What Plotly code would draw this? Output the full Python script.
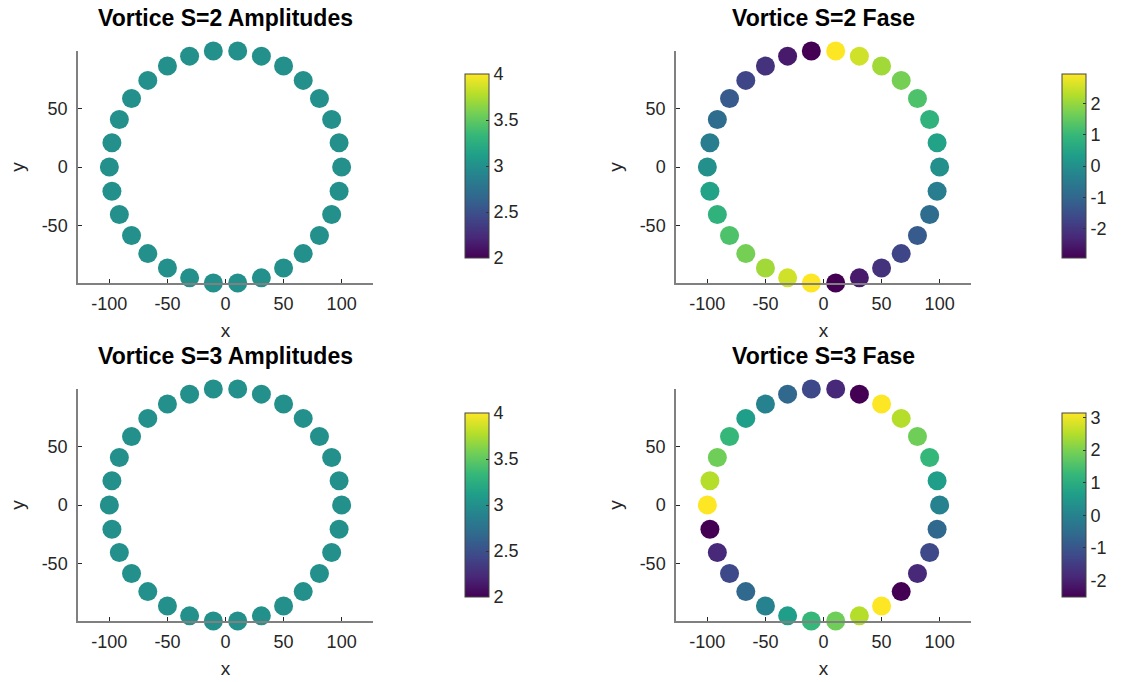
import plotly.graph_objects as go

# ---- data (30 points on a circle of radius 100) ----
x_vals = [100.0, 97.8, 91.4, 80.9, 66.9, 50.0, 30.9, 10.5, -10.5, -30.9,
          -50.0, -66.9, -80.9, -91.4, -97.8, -100.0, -97.8, -91.4, -80.9, -66.9,
          -50.0, -30.9, -10.5, 10.5, 30.9, 50.0, 66.9, 80.9, 91.4, 97.8]
y_vals = [0.0, 20.8, 40.7, 58.8, 74.3, 86.6, 95.1, 99.5, 99.5, 95.1,
          86.6, 74.3, 58.8, 40.7, 20.8, 0.0, -20.8, -40.7, -58.8, -74.3,
          -86.6, -95.1, -99.5, -99.5, -95.1, -86.6, -74.3, -58.8, -40.7, -20.8]

amp_s2 = [3.0, 3.0, 3.0, 3.0, 3.0, 3.0, 3.0, 3.0, 3.0, 3.0,
          3.0, 3.0, 3.0, 3.0, 3.0, 3.0, 3.0, 3.0, 3.0, 3.0,
          3.0, 3.0, 3.0, 3.0, 3.0, 3.0, 3.0, 3.0, 3.0, 3.0]
amp_s3 = [3.0, 3.0, 3.0, 3.0, 3.0, 3.0, 3.0, 3.0, 3.0, 3.0,
          3.0, 3.0, 3.0, 3.0, 3.0, 3.0, 3.0, 3.0, 3.0, 3.0,
          3.0, 3.0, 3.0, 3.0, 3.0, 3.0, 3.0, 3.0, 3.0, 3.0]
phase_s2 = [0.00, 0.42, 0.84, 1.26, 1.68, 2.09, 2.51, 2.93, -2.93, -2.51,
            -2.09, -1.68, -1.26, -0.84, -0.42, 0.00, 0.42, 0.84, 1.26, 1.68,
            2.09, 2.51, 2.93, -2.93, -2.51, -2.09, -1.68, -1.26, -0.84, -0.42]
phase_s3 = [0.00, 0.63, 1.26, 1.88, 2.51, 3.14, -2.51, -1.88, -1.26, -0.63,
            0.00, 0.63, 1.26, 1.88, 2.51, 3.14, -2.51, -1.88, -1.26, -0.63,
            0.00, 0.63, 1.26, 1.88, 2.51, 3.14, -2.51, -1.88, -1.26, -0.63]

titles = ["Vortice S=2 Amplitudes", "Vortice S=2 Fase",
          "Vortice S=3 Amplitudes", "Vortice S=3 Fase"]
x_ticks = [-100, -50, 0, 50, 100]
x_tick_text = ["-100", "-50", "0", "50", "100"]
y_ticks = [-50, 0, 50]
y_tick_text = ["-50", "0", "50"]
amp_range = [2, 4]
amp_ticks = [2, 2.5, 3, 3.5, 4]
amp_tick_text = ["2", "2.5", "3", "3.5", "4"]
s2_ticks = [-2, -1, 0, 1, 2]
s2_tick_text = ["-2", "-1", "0", "1", "2"]
s3_ticks = [-2, -1, 0, 1, 2, 3]
s3_tick_text = ["-2", "-1", "0", "1", "2", "3"]

W, H = 1126, 682
FONT = "Liberation Sans"
TXT = "#262626"
AX = "#808080"

panels = [
    dict(c=amp_s2, cmin=amp_range[0], cmax=amp_range[1], ticks=amp_ticks,
         tt=amp_tick_text, ax=(78, 373), ay=(51, 283), cbx=465, cby=166),
    dict(c=phase_s2, cmin=min(phase_s2), cmax=max(phase_s2), ticks=s2_ticks,
         tt=s2_tick_text, ax=(676, 971), ay=(51, 283), cbx=1062, cby=166),
    dict(c=amp_s3, cmin=amp_range[0], cmax=amp_range[1], ticks=amp_ticks,
         tt=amp_tick_text, ax=(78, 373), ay=(389, 621), cbx=465, cby=505),
    dict(c=phase_s3, cmin=min(phase_s3), cmax=max(phase_s3), ticks=s3_ticks,
         tt=s3_tick_text, ax=(676, 971), ay=(389, 621), cbx=1062, cby=505),
]

fig = go.Figure()
layout = dict(width=W, height=H, margin=dict(l=0, r=0, t=0, b=0),
              paper_bgcolor="white", plot_bgcolor="white", showlegend=False,
              font=dict(family=FONT, size=18, color=TXT))
annotations = []
for i, p in enumerate(panels):
    n = "" if i == 0 else str(i + 1)
    fig.add_trace(go.Scatter(
        x=x_vals, y=y_vals, mode="markers", cliponaxis=False,
        xaxis="x" + n, yaxis="y" + n,
        marker=dict(size=19, color=p["c"], colorscale="Viridis",
                    cmin=p["cmin"], cmax=p["cmax"], line=dict(width=0),
                    showscale=True,
                    colorbar=dict(x=p["cbx"] / W, xanchor="left",
                                  y=1 - p["cby"] / H, yanchor="middle",
                                  len=184 / H, lenmode="fraction",
                                  thickness=24, thicknessmode="pixels",
                                  xpad=0, ypad=0, outlinewidth=1,
                                  outlinecolor="#444",
                                  tickvals=p["ticks"], ticktext=p["tt"],
                                  ticks="inside",
                                  ticklen=3, tickcolor="#333",
                                  tickfont=dict(size=18, color=TXT))),
        hoverinfo="skip"))
    xd = [p["ax"][0] / W, p["ax"][1] / W]
    yd = [1 - p["ay"][1] / H, 1 - p["ay"][0] / H]
    layout["xaxis" + n] = dict(domain=xd, range=[-127, 127], anchor="y" + n,
                               tickvals=x_ticks, ticktext=x_tick_text,
                               ticks="inside", ticklen=4,
                               tickcolor=TXT, showline=True, linecolor=AX,
                               linewidth=1.5, showgrid=False, zeroline=False,
                               ticklabelstandoff=4,
                               tickfont=dict(size=18, color=TXT),
                               title=dict(text="x", standoff=10,
                                          font=dict(size=19, color=TXT)))
    layout["yaxis" + n] = dict(domain=yd, range=[-99.5, 99.5], anchor="x" + n,
                               tickvals=y_ticks, ticktext=y_tick_text,
                               ticks="inside", ticklen=4,
                               tickcolor=TXT, showline=True, linecolor=AX,
                               linewidth=1.5, showgrid=False, zeroline=False,
                               ticklabelstandoff=5,
                               tickfont=dict(size=18, color=TXT),
                               title=dict(text="y", standoff=12,
                                          font=dict(size=19, color=TXT)))
    annotations.append(dict(text="<b>" + titles[i] + "</b>", xref="paper",
                            yref="paper", x=(xd[0] + xd[1]) / 2,
                            y=1 - (p["ay"][0] - 33) / H, xanchor="center",
                            yanchor="middle", showarrow=False,
                            font=dict(size=23, color="black", family=FONT)))
layout["annotations"] = annotations
fig.update_layout(**layout)
fig.write_html("out.html")
